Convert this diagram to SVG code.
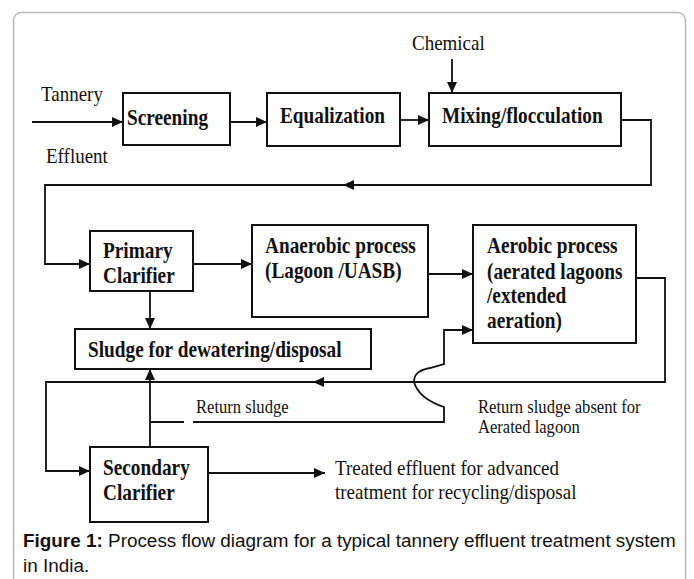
<svg xmlns="http://www.w3.org/2000/svg" width="694" height="579" viewBox="0 0 694 579">
<style>
.box{fill:#fff;stroke:#111;stroke-width:2}
.ln{fill:none;stroke:#111;stroke-width:1.8}
.b{font-family:"Liberation Serif","Times New Roman",serif;font-weight:bold;font-size:19.3px;fill:#111}
.r{font-family:"Liberation Serif","Times New Roman",serif;font-size:19px;fill:#111}
.s{font-family:"Liberation Serif","Times New Roman",serif;font-size:16.6px;fill:#111}
.cap{font-family:"Liberation Sans",Arial,sans-serif;font-size:18.9px;fill:#111}
</style>
<defs>
<marker id="ah" markerUnits="userSpaceOnUse" markerWidth="11" markerHeight="10" refX="11" refY="5" orient="auto">
<path d="M0,0 L11,5 L0,10 z" fill="#111"/>
</marker>
</defs>
<rect x="13.5" y="12.5" width="672" height="620" rx="8" fill="#fff" stroke="#b8b8b8" stroke-width="1.5"/>

<g id="connectors">
<path class="ln" d="M32,122 H123" marker-end="url(#ah)"/>
<path class="ln" d="M230,122 H267" marker-end="url(#ah)"/>
<path class="ln" d="M400,120 H429" marker-end="url(#ah)"/>
<path class="ln" d="M452,59 V93" marker-end="url(#ah)"/>
<path class="ln" d="M621,120 H651 V185 H343" marker-end="url(#ah)"/>
<path class="ln" d="M343,185 H45 V264 H90" marker-end="url(#ah)"/>
<path class="ln" d="M193,264 H252" marker-end="url(#ah)"/>
<path class="ln" d="M428,274 H473" marker-end="url(#ah)"/>
<path class="ln" d="M150,291 V329" marker-end="url(#ah)"/>
<path class="ln" d="M636,278 H665 V382 H313" marker-end="url(#ah)"/>
<path class="ln" d="M313,382 H46 V471 H90" marker-end="url(#ah)"/>
<path class="ln" d="M150,447 V369" marker-end="url(#ah)"/>
<path class="ln" d="M150,422 H184"/>
<path class="ln" d="M193,422 H444 V407 C432,403 418,396 414,382 C414,373 420,370 430,368 L444,364 V330 H473" marker-end="url(#ah)"/>
<path class="ln" d="M208,473 H325" marker-end="url(#ah)"/>
</g>

<g id="screening">
<rect class="box" x="123" y="93" width="107" height="52"/>
<text class="b" transform="translate(127,125) scale(1,1.15)">Screening</text>
</g>
<g id="equalization">
<rect class="box" x="267" y="93" width="133" height="53"/>
<text class="b" transform="translate(280,123) scale(1,1.15)">Equalization</text>
</g>
<g id="mixing">
<rect class="box" x="429" y="93" width="192" height="53"/>
<text class="b" transform="translate(442,123) scale(1,1.15)">Mixing/flocculation</text>
</g>
<g id="primary">
<rect class="box" x="90" y="231" width="103" height="60"/>
<text class="b" transform="translate(103,258) scale(1,1.15)">Primary</text>
<text class="b" transform="translate(103,283) scale(1,1.15)">Clarifier</text>
</g>
<g id="anaerobic">
<rect class="box" x="252" y="225" width="176" height="92"/>
<text class="b" transform="translate(265,253) scale(1,1.15)">Anaerobic process</text>
<text class="b" transform="translate(265,278) scale(1,1.15)">(Lagoon /UASB)</text>
</g>
<g id="aerobic">
<rect class="box" x="473" y="225" width="163" height="118"/>
<text class="b" transform="translate(487,253) scale(1,1.15)">Aerobic process</text>
<text class="b" transform="translate(487,279) scale(1,1.15)">(aerated lagoons</text>
<text class="b" transform="translate(487,303) scale(1,1.15)">/extended</text>
<text class="b" transform="translate(487,328) scale(1,1.15)">aeration)</text>
</g>
<g id="sludge">
<rect class="box" x="75" y="329" width="296" height="40"/>
<text class="b" transform="translate(88,357) scale(1,1.15)">Sludge for dewatering/disposal</text>
</g>
<g id="secondary">
<rect class="box" x="90" y="447" width="118" height="75"/>
<text class="b" transform="translate(103,475) scale(1,1.15)">Secondary</text>
<text class="b" transform="translate(103,500) scale(1,1.15)">Clarifier</text>
</g>

<g id="labels">
<text class="r" font-size="17.7" transform="translate(41,101) scale(1,1.12)">Tannery</text>
<text class="r" font-size="18" transform="translate(46,163) scale(1,1.12)">Effluent</text>
<text class="r" font-size="19.8" transform="translate(412,50) scale(1,1.12)">Chemical</text>
<text class="s" transform="translate(196,413) scale(1,1.12)">Return sludge</text>
<text class="s" transform="translate(478,413) scale(1,1.12)">Return sludge absent for</text>
<text class="s" transform="translate(478,433) scale(1,1.12)">Aerated lagoon</text>
<text class="r" transform="translate(335,475) scale(1,1.12)">Treated effluent for advanced</text>
<text class="r" transform="translate(335,499) scale(1,1.12)">treatment for recycling/disposal</text>
</g>

<g id="caption">
<text class="cap" x="23" y="547"><tspan font-weight="bold">Figure 1:</tspan> Process flow diagram for a typical tannery effluent treatment system</text>
<text class="cap" x="23" y="572">in India.</text>
</g>
</svg>
